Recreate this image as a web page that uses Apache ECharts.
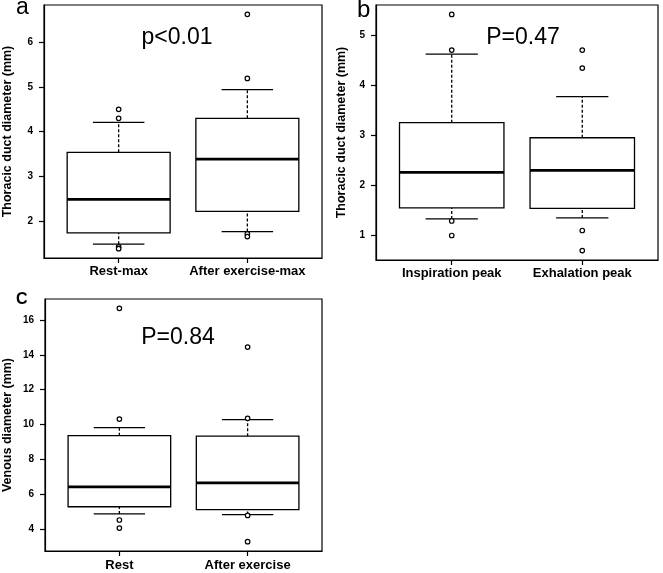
<!DOCTYPE html>
<html lang="en">
  <head>
    <meta charset="UTF-8" />
    <title>Thoracic duct and venous diameter boxplots</title>
    <style>
      html, body { margin: 0; padding: 0; width: 100%; height: 100%; overflow: hidden; background: #fff; }
      #chart { width: 663px; height: 573px; }
    </style>
    <script src="https://cdn.jsdelivr.net/npm/echarts@6/dist/echarts.min.js"></script>
  </head>
  <body>
    <div id="chart"></div>
    <script>
      // panel a
      const catsA = ["Rest-max", "After exercise-max"];
      const boxA = [[1.49, 1.74, 2.49, 3.54, 4.21], [1.77, 2.22, 3.39, 4.30, 4.94]]; // min, q1, median, q3, max
      const outA = [[4.5, 4.3, 1.43, 1.39], [6.62, 5.19, 1.72, 1.66]];
      const ticksA = [2, 3, 4, 5, 6];

      // panel b
      const catsB = ["Inspiration peak", "Exhalation peak"];
      const boxB = [[1.33, 1.55, 2.26, 3.25, 4.62], [1.35, 1.54, 2.30, 2.95, 3.77]];
      const outB = [[5.41, 4.70, 1.29, 1.0], [4.70, 4.34, 1.10, 0.70]];
      const ticksB = [1, 2, 3, 4, 5];

      // panel c
      const catsC = ["Rest", "After exercise"];
      const boxC = [[4.89, 5.30, 6.44, 9.37, 9.83], [4.85, 5.14, 6.67, 9.34, 10.29]];
      const outC = [[16.66, 10.32, 4.54, 4.08], [14.44, 10.36, 4.80, 3.30]];
      const ticksC = [4, 6, 8, 10, 12, 14, 16];

      const FONT = "Liberation Sans, Arial, sans-serif";

      const chart = echarts.init(document.getElementById("chart"), null, { renderer: "canvas" });

      // R style range: data extent plus 4% on each side
      function rRange(box, out) {
        const all = box.flat().concat(out.flat());
        const lo = Math.min(...all), hi = Math.max(...all);
        const pad = (hi - lo) * 0.04;
        return [lo - pad, hi + pad];
      }

      function renderBox(params, api) {
        const x = api.value(0);
        const lo = api.coord([x, api.value(1)]);
        const q1 = api.coord([x, api.value(2)]);
        const med = api.coord([x, api.value(3)]);
        const q3 = api.coord([x, api.value(4)]);
        const hi = api.coord([x, api.value(5)]);
        const w = api.size([0.8, 0])[0];
        const cx = lo[0];
        const line = (x1, y1, x2, y2, style) => ({
          type: "line",
          shape: { x1: x1, y1: y1, x2: x2, y2: y2 },
          style: Object.assign({ stroke: "#000", lineWidth: 1.3 }, style)
        });
        return {
          type: "group",
          children: [
            line(cx, q3[1], cx, hi[1], { lineDash: [3, 2] }),
            line(cx, lo[1], cx, q1[1], { lineDash: [3, 2] }),
            line(cx - w / 4, hi[1], cx + w / 4, hi[1]),
            line(cx - w / 4, lo[1], cx + w / 4, lo[1]),
            {
              type: "rect",
              shape: { x: cx - w / 2, y: q3[1], width: w, height: q1[1] - q3[1] },
              style: { fill: "#fff", stroke: "#000", lineWidth: 1.3 }
            },
            line(cx - w / 2, med[1], cx + w / 2, med[1], { lineWidth: 2.8 })
          ]
        };
      }

      const panels = [
        { cats: catsA, box: boxA, out: outA, ticks: ticksA, name: "Thoracic duct diameter (mm)",
          grid: { left: 38, top: 5, width: 284, height: 253 }, nameGap: 30, labelMargin: 7 },
        { cats: catsB, box: boxB, out: outB, ticks: ticksB, name: "Thoracic duct diameter (mm)",
          grid: { left: 376, top: 5, width: 282, height: 255 }, nameGap: 28, labelMargin: 7 },
        { cats: catsC, box: boxC, out: outC, ticks: ticksC, name: "Venous diameter (mm)",
          grid: { left: 38, top: 299, width: 284, height: 252 }, nameGap: 31, labelMargin: 8 }
      ];

      const grids = [], xAxes = [], yAxes = [], series = [];
      panels.forEach((p, i) => {
        const yr = rRange(p.box, p.out);
        grids.push(Object.assign({ show: true, borderColor: "#000", borderWidth: 1.2, backgroundColor: "transparent" }, p.grid));
        xAxes.push({
          gridIndex: i, type: "value", min: 0.42, max: 2.58,
          splitLine: { show: false },
          axisLine: { show: true, lineStyle: { color: "#000", width: 1.2 } },
          axisTick: { show: true, customValues: [1, 2], length: 5, lineStyle: { color: "#000", width: 1.2 } },
          axisLabel: {
            customValues: [1, 2], margin: p.labelMargin,
            formatter: (v) => p.cats[Math.round(v) - 1],
            color: "#000", fontFamily: FONT, fontWeight: "bold", fontSize: 13
          }
        });
        yAxes.push({
          gridIndex: i, type: "value", min: yr[0], max: yr[1],
          name: p.name, nameLocation: "middle", nameRotate: 90, nameGap: p.nameGap,
          nameTextStyle: { color: "#000", fontFamily: FONT, fontWeight: "bold", fontSize: 12.5 },
          splitLine: { show: false },
          axisLine: { show: true, lineStyle: { color: "#000", width: 1.2 } },
          axisTick: { show: true, customValues: p.ticks, length: 5, lineStyle: { color: "#000", width: 1.2 } },
          axisLabel: {
            customValues: p.ticks, margin: 11,
            color: "#000", fontFamily: FONT, fontWeight: "bold", fontSize: 10
          }
        });
        series.push({
          type: "custom", xAxisIndex: i, yAxisIndex: i,
          renderItem: renderBox,
          encode: { x: 0, y: [1, 2, 3, 4, 5] },
          data: p.box.map((b, k) => [k + 1].concat(b)),
          silent: true, z: 2
        });
        const pts = [];
        p.out.forEach((vals, k) => vals.forEach((v) => pts.push([k + 1, v])));
        series.push({
          type: "scatter", xAxisIndex: i, yAxisIndex: i,
          data: pts, symbol: "circle", symbolSize: 4.5,
          itemStyle: { color: "#fff", borderColor: "#000", borderWidth: 1.2, opacity: 1 },
          silent: true, z: 3
        });
      });

      const txt = (text, x, y, font, align) => ({
        type: "text", x: x, y: y, silent: true,
        style: { text: text, font: font, fill: "#000", textAlign: align || "left", textVerticalAlign: "bottom" }
      });

      const option = {
        animation: false,
        grid: grids,
        xAxis: xAxes,
        yAxis: yAxes,
        series: series,
        graphic: [
          txt("a", 16, 19, "normal 23px " + FONT),
          txt("b", 357, 22, "normal 24px " + FONT),
          txt("C", 16, 308, "bold 16px " + FONT),
          txt("p<0.01", 177, 49, "normal 23px " + FONT, "center"),
          txt("P=0.47", 523, 49, "normal 23px " + FONT, "center"),
          txt("P=0.84", 178, 349, "normal 23px " + FONT, "center")
        ]
      };

      chart.setOption(option);
    </script>
  </body>
</html>
